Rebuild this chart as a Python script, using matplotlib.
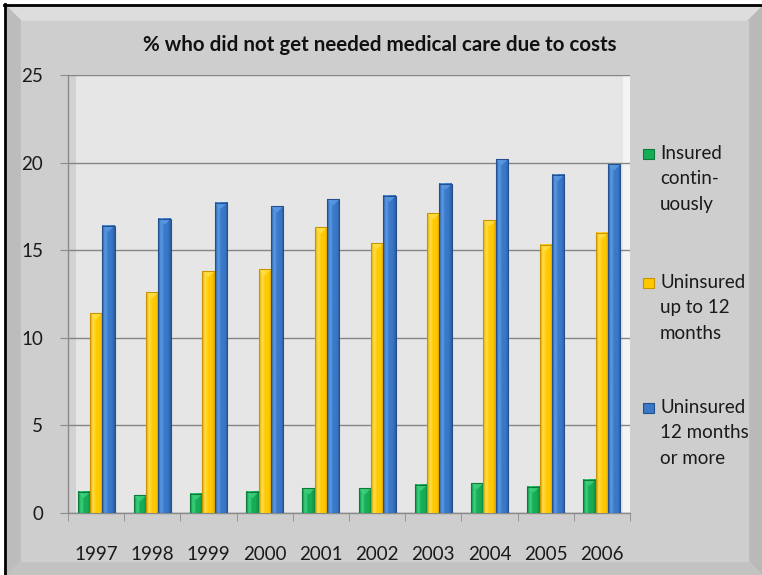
import numpy as np
import matplotlib
matplotlib.use("Agg")
import matplotlib.pyplot as plt
from matplotlib.colors import LinearSegmentedColormap
from matplotlib.patches import Rectangle, Polygon

# Data
years = ["1997", "1998", "1999", "2000", "2001", "2002", "2003", "2004", "2005", "2006"]
insured = [1.2, 1.0, 1.1, 1.2, 1.4, 1.4, 1.6, 1.7, 1.5, 1.9]
uninsured_short = [11.4, 12.6, 13.8, 13.9, 16.3, 15.4, 17.1, 16.7, 15.3, 16.0]
uninsured_long = [16.4, 16.8, 17.7, 17.5, 17.9, 18.1, 18.8, 20.2, 19.3, 19.9]
labels = ["Insured\ncontin-\nuously", "Uninsured\nup to 12\nmonths", "Uninsured\n12 months\nor more"]
title = "% who did not get needed medical care due to costs"

# (edge, light, mid, dark) per series
palettes = [
    ("#0b7a3a", "#3fd27f", "#16ad55", "#0d8a42"),
    ("#c99400", "#ffe04a", "#ffc800", "#e0a800"),
    ("#25508e", "#5b9be6", "#3a78c8", "#2c5d9e"),
]

W, H = 762, 575
plt.rcParams["font.family"] = ["Lato", "DejaVu Sans"]

fig = plt.figure(figsize=(W / 100, H / 100), dpi=100)
fig.patch.set_facecolor("white")

# background layer in pixel coordinates
bg = fig.add_axes([0, 0, 1, 1], zorder=-5)
bg.set_xlim(0, W)
bg.set_ylim(H, 0)
bg.axis("off")

# chart panel with bevel
x0, y0, x1, y1, b = 7, 7, 762, 575, 14
bg.add_patch(Rectangle((x0, y0), x1 - x0, y1 - y0, color="#cbcbcb", zorder=0))
bg.add_patch(Polygon([(x0, y0), (x1, y0), (x1 - b, y0 + b), (x0 + b, y0 + b)], color="#dddddd", zorder=1))
bg.add_patch(Polygon([(x0, y0), (x0 + b, y0 + b), (x0 + b, y1 - b), (x0, y1)], color="#bcbcbc", zorder=1))
bg.add_patch(Polygon([(x1, y0), (x1 - b, y0 + b), (x1 - b, y1 - b), (x1, y1)], color="#b9b9b9", zorder=1))
bg.add_patch(Polygon([(x0, y1), (x0 + b, y1 - b), (x1 - b, y1 - b), (x1, y1)], color="#c2c2c2", zorder=1))
bg.add_patch(Rectangle((x0 + b, y0 + b), x1 - x0 - 2 * b, y1 - y0 - 2 * b, color="#cecece", zorder=2))
bg.plot([4.5, 4.5], [4, H], color="black", lw=2, zorder=3)
bg.plot([4, W], [5, 5], color="black", lw=2, zorder=3)

# plot area
left, right, top, bottom = 68, 630, 75, 513
ax = fig.add_axes([left / W, 1 - bottom / H, (right - left) / W, (bottom - top) / H])
ax.set_facecolor("#e6e6e6")
ax.set_xlim(-0.5, len(years) - 0.5)
ax.set_ylim(0, 25)

# 3D wall hints
ax.add_patch(Rectangle((0, 0), 8 / (right - left), 1, transform=ax.transAxes,
                       color="#d2d2d2", zorder=0.5, lw=0))
ax.add_patch(Rectangle((1 - 7 / (right - left), 0), 7 / (right - left), 1, transform=ax.transAxes,
                       color="#f4f4f4", zorder=0.5, lw=0))

ax.set_yticks(np.arange(0, 26, 5))
ax.yaxis.grid(True, color="#858585", lw=1)
ax.set_axisbelow(True)

x = np.arange(len(years))
width = 0.22
series = [insured, uninsured_short, uninsured_long]
for i, (vals, pal) in enumerate(zip(series, palettes)):
    bars = ax.bar(x + (i - 1) * width, vals, width, color="none", edgecolor=pal[0], lw=0.8, zorder=4)
    cmap = LinearSegmentedColormap.from_list("c%d" % i, [pal[3], pal[1], pal[2], pal[2], pal[3]])
    grad = np.linspace(0, 1, 64).reshape(1, -1)
    for r in bars:
        bx, bw, bh = r.get_x(), r.get_width(), r.get_height()
        ax.imshow(grad, cmap=cmap, extent=(bx, bx + bw, 0, bh), aspect="auto", zorder=3)
        # lighter cap at the top of each bar
        ch = 0.35
        ax.add_patch(Polygon([(bx, bh), (bx + bw, bh), (bx + bw * 0.5, bh - ch)],
                             color=pal[1], alpha=0.8, zorder=3.5, lw=0))

ax.set_xlim(-0.5, len(years) - 0.5)
ax.set_ylim(0, 25)

for s in ["top", "right"]:
    ax.spines[s].set_visible(False)
for s in ["left", "bottom"]:
    ax.spines[s].set_color("#8a8a8a")
    ax.spines[s].set_linewidth(1)

ax.set_xticks(x)
ax.set_xticklabels(years)
ax.set_xticks(np.arange(-0.5, len(years)), minor=True)
ax.tick_params(axis="x", which="major", length=0, pad=24, labelsize=13.5, labelcolor="#1a1a1a")
ax.tick_params(axis="x", which="minor", length=6, color="#8a8a8a", direction="out")
ax.tick_params(axis="y", length=6, color="#8a8a8a", pad=12, labelsize=13.5, labelcolor="#1a1a1a")

# title
bg.text(380, 45, title, ha="center", va="center", fontsize=14.8, fontweight="bold", color="#111111")

# legend drawn to match the chart's layout
leg_y = [154, 283, 408]
for lab, pal, ly in zip(labels, palettes, leg_y):
    bg.add_patch(Rectangle((643, ly - 5), 11, 10, facecolor=pal[2], edgecolor=pal[0], lw=0.8, zorder=5))
    bg.text(660, ly - 9, lab, ha="left", va="top", fontsize=13.5, color="#1a1a1a", linespacing=1.6, zorder=5)

fig.savefig("out.png", dpi=100, facecolor=fig.get_facecolor())
